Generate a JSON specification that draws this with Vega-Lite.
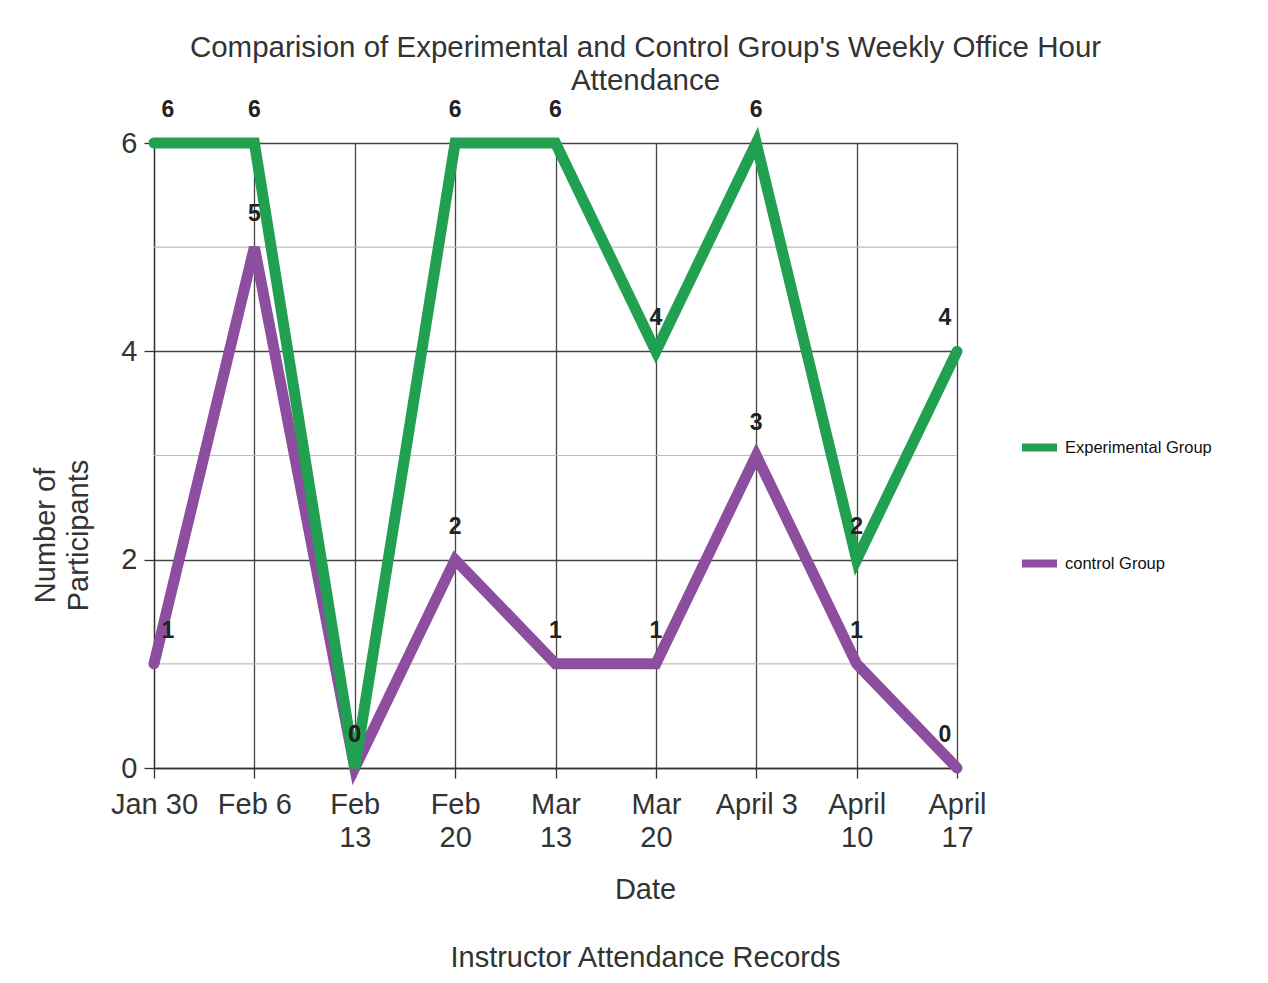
{
  "$schema": "https://vega.github.io/schema/vega-lite/v6.json",
  "width": 803,
  "height": 625,
  "autosize": {"type": "none"},
  "padding": {"left": 154, "top": 143, "right": 311, "bottom": 215},
  "background": "white",
  "config": {"view": {"stroke": null}, "font": "Liberation Sans"},
  "title": {
    "text": ["Comparision of Experimental and Control Group's Weekly Office Hour", "Attendance"],
    "fontSize": 29.5,
    "fontWeight": "normal",
    "color": "#333",
    "lineHeight": 33,
    "anchor": "middle",
    "dx": 90,
    "offset": 3
  },
  "datasets": {
    "att": [
      {"date": "Jan 30", "group": "Experimental Group", "value": 6},
      {"date": "Feb 6", "group": "Experimental Group", "value": 6},
      {"date": "Feb 13", "group": "Experimental Group", "value": 0},
      {"date": "Feb 20", "group": "Experimental Group", "value": 6},
      {"date": "Mar 13", "group": "Experimental Group", "value": 6},
      {"date": "Mar 20", "group": "Experimental Group", "value": 4},
      {"date": "April 3", "group": "Experimental Group", "value": 6},
      {"date": "April 10", "group": "Experimental Group", "value": 2},
      {"date": "April 17", "group": "Experimental Group", "value": 4},
      {"date": "Jan 30", "group": "control Group", "value": 1},
      {"date": "Feb 6", "group": "control Group", "value": 5},
      {"date": "Feb 13", "group": "control Group", "value": 0},
      {"date": "Feb 20", "group": "control Group", "value": 2},
      {"date": "Mar 13", "group": "control Group", "value": 1},
      {"date": "Mar 20", "group": "control Group", "value": 1},
      {"date": "April 3", "group": "control Group", "value": 3},
      {"date": "April 10", "group": "control Group", "value": 1},
      {"date": "April 17", "group": "control Group", "value": 0}
    ],
    "minor": [{"g": 1}, {"g": 3}, {"g": 5}]
  },
  "layer": [
    {
      "data": {"name": "minor"},
      "mark": {"type": "rule", "color": "#bdbdbd", "strokeWidth": 1.2},
      "encoding": {
        "y": {
          "field": "g", "type": "quantitative",
          "scale": {"domain": [0, 6], "nice": false},
          "axis": {
            "values": [0, 2, 4, 6],
            "format": "d",
            "grid": true,
            "gridColor": "#444",
            "gridOpacity": 1,
            "gridWidth": 1.3,
            "domainColor": "#333",
            "domainWidth": 1.3,
            "tickColor": "#333",
            "tickWidth": 1.3,
            "tickSize": 10,
            "labelFontSize": 29,
            "labelColor": "#333",
            "labelPadding": 7,
            "title": ["Number of", "Participants"],
            "titleFontSize": 29,
            "titleFontWeight": "normal",
            "titleColor": "#333",
            "titleLineHeight": 33,
            "titleX": -94,
            "titleY": 392
          }
        }
      }
    },
    {
      "data": {"name": "att"},
      "transform": [{"filter": "datum.group == 'control Group'"}],
      "mark": {"type": "line", "strokeWidth": 11, "strokeCap": "round"},
      "encoding": {
        "x": {
          "field": "date", "type": "ordinal", "sort": null,
          "scale": {"type": "point", "padding": 0, "domain": ["Jan 30", "Feb 6", "Feb 13", "Feb 20", "Mar 13", "Mar 20", "April 3", "April 10", "April 17"]},
          "axis": {
            "title": ["Date", "Instructor Attendance Records"],
            "titleFontSize": 29,
            "titleFontWeight": "normal",
            "titleColor": "#333",
            "titleLineHeight": 68,
            "titleX": 491,
            "titleY": 107,
            "titleAlign": "center",
            "titleBaseline": "top",
            "labelAngle": 0,
            "labelFontSize": 29,
            "labelColor": "#333",
            "labelLineHeight": 33,
            "labelPadding": 12,
            "labelExpr": "indexof(['Jan 30','Feb 6','April 3'], datum.value) >= 0 ? datum.value : split(datum.value, ' ')",
            "tickSize": 10,
            "tickColor": "#333",
            "tickWidth": 1.3,
            "domainColor": "#333",
            "domainWidth": 1.3,
            "grid": true,
            "gridColor": "#444",
            "gridOpacity": 1,
            "gridWidth": 1.3
          }
        },
        "y": {"field": "value", "type": "quantitative"},
        "color": {
          "field": "group", "type": "nominal",
          "scale": {"domain": ["Experimental Group", "control Group"], "range": ["#22A052", "#8E4E9F"]},
          "legend": {
            "title": null, "orient": "none", "legendX": 864, "legendY": 283,
            "symbolType": "stroke", "symbolSize": 1225, "symbolStrokeWidth": 8,
            "labelFontSize": 16.5, "labelColor": "#111", "labelOffset": 4, "rowPadding": 78,
            "direction": "vertical"
          }
        }
      }
    },
    {
      "data": {"name": "att"},
      "transform": [{"filter": "datum.group == 'Experimental Group'"}],
      "mark": {"type": "line", "strokeWidth": 11, "strokeCap": "round"},
      "encoding": {
        "x": {"field": "date", "type": "ordinal", "sort": null},
        "y": {"field": "value", "type": "quantitative"},
        "color": {"field": "group", "type": "nominal"}
      }
    },
    {
      "data": {"name": "att"},
      "transform": [{"filter": "datum.date != 'Jan 30' && datum.date != 'April 17'"}],
      "mark": {"type": "text", "dy": -33, "fontSize": 23, "fontWeight": "bold", "color": "#222", "baseline": "middle"},
      "encoding": {
        "x": {"field": "date", "type": "ordinal", "sort": null},
        "y": {"field": "value", "type": "quantitative"},
        "text": {"field": "value", "type": "quantitative"}
      }
    },
    {
      "data": {"name": "att"},
      "transform": [{"filter": "datum.date == 'Jan 30'"}],
      "mark": {"type": "text", "dy": -33, "dx": 14, "fontSize": 23, "fontWeight": "bold", "color": "#222", "baseline": "middle"},
      "encoding": {
        "x": {"field": "date", "type": "ordinal", "sort": null},
        "y": {"field": "value", "type": "quantitative"},
        "text": {"field": "value", "type": "quantitative"}
      }
    },
    {
      "data": {"name": "att"},
      "transform": [{"filter": "datum.date == 'April 17'"}],
      "mark": {"type": "text", "dy": -33, "dx": -12, "fontSize": 23, "fontWeight": "bold", "color": "#222", "baseline": "middle"},
      "encoding": {
        "x": {"field": "date", "type": "ordinal", "sort": null},
        "y": {"field": "value", "type": "quantitative"},
        "text": {"field": "value", "type": "quantitative"}
      }
    }
  ]
}
